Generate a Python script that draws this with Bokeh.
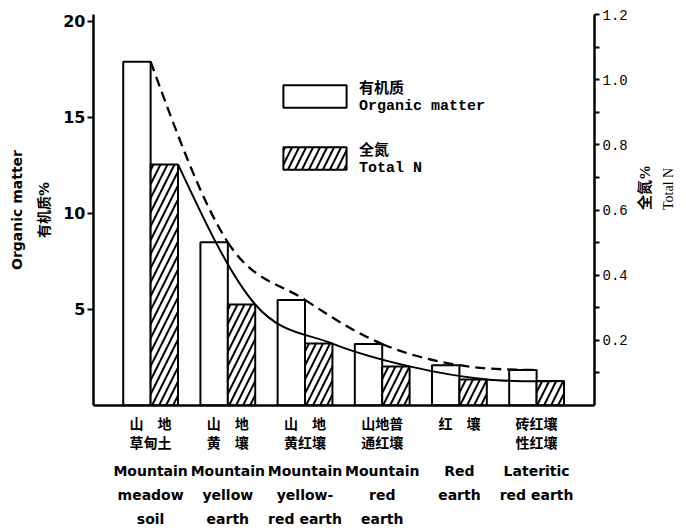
import math
import numpy as np
from bokeh.plotting import figure
from bokeh.models import (Range1d, LinearAxis, FixedTicker, Legend, LegendItem,
                          PrintfTickFormatter)
from bokeh.embed import file_html
from bokeh.resources import INLINE

# ---- data ----
soils_cn = ["山　地\n草甸土", "山　地\n黄　壤", "山　地\n黄红壤", "山地普\n通红壤", "红　壤", "砖红壤\n性红壤"]
soils_en = ["Mountain\nmeadow\nsoil", "Mountain\nyellow\nearth", "Mountain\nyellow-\nred earth",
            "Mountain\nred\nearth", "Red\nearth", "Lateritic\nred earth"]
organic_matter = [17.9, 8.5, 5.5, 3.2, 2.1, 1.85]      # %
total_n = [0.74, 0.31, 0.19, 0.12, 0.08, 0.075]         # %
om_ticks = [5, 10, 15, 20]
n_ticks = [0.2, 0.4, 0.6, 0.8, 1.0, 1.2]
n_minor = [0.1, 0.3, 0.5, 0.7, 0.9, 1.1]

W, H = 686, 531
pos = list(range(1, len(soils_cn) + 1))
bw = 0.355

p = figure(width=W, height=H, output_backend="svg", toolbar_location=None,
           x_range=Range1d(0.26, 6.75), y_range=Range1d(0, 20.36),
           x_axis_type=None, y_axis_type=None,
           min_border_left=93, min_border_right=92, min_border_top=14, min_border_bottom=126)
p.extra_y_ranges = {"n": Range1d(0, 1.2)}
p.outline_line_color = None
p.background_fill_color = "white"
p.border_fill_color = "white"

CJK = "'Noto Sans CJK SC'"
BLACK = "black"

left = LinearAxis(ticker=FixedTicker(ticks=om_ticks, minor_ticks=[]),
                  axis_line_width=2.5, major_tick_line_width=2, major_tick_out=6, major_tick_in=0,
                  minor_tick_out=0, minor_tick_in=0,
                  major_label_text_font="DejaVu Sans", major_label_text_font_style="bold",
                  major_label_text_font_size="16px", major_label_standoff=2,
                  major_label_text_color=BLACK,
                  axis_label="Organic matter\n有机质%",
                  axis_label_text_font="'DejaVu Sans', " + CJK, axis_label_text_font_style="bold",
                  axis_label_text_font_size="14px", axis_label_standoff=8,
                  axis_label_text_line_height=1.7, axis_label_text_color=BLACK)
p.add_layout(left, "left")

right = LinearAxis(y_range_name="n", ticker=FixedTicker(ticks=n_ticks, minor_ticks=n_minor),
                   formatter=PrintfTickFormatter(format="%.1f"),
                   axis_line_width=2.5, major_tick_line_width=2, major_tick_out=5, major_tick_in=0,
                   minor_tick_line_width=2, minor_tick_out=5, minor_tick_in=0,
                   major_label_text_font="Liberation Mono", major_label_text_font_size="14px",
                   major_label_standoff=3, major_label_text_color=BLACK,
                   axis_label="全氮%", axis_label_text_font="'Liberation Serif', " + CJK,
                   axis_label_text_font_style="bold",
                   axis_label_text_font_size="15px", axis_label_standoff=14,
                   axis_label_text_color=BLACK)
# second (tick-less) right axis carrying the English title line
right2 = LinearAxis(y_range_name="n", ticker=FixedTicker(ticks=[], minor_ticks=[]),
                    axis_line_color=None, major_tick_out=0, major_tick_in=0,
                    minor_tick_out=0, minor_tick_in=0,
                    axis_label="Total N", axis_label_text_font="Liberation Serif",
                    axis_label_text_font_style="normal", axis_label_text_font_size="14px",
                    axis_label_standoff=5, axis_label_text_color=BLACK)
for ax in (right, right2):
    try:
        ax.axis_label_orientation = math.pi / 2   # read bottom-to-top as in the original
    except Exception:
        pass
p.add_layout(right, "right")
p.add_layout(right2, "right")

cn_axis = LinearAxis(ticker=FixedTicker(ticks=pos, minor_ticks=[]),
                     major_label_overrides={k: v for k, v in zip(pos, soils_cn)},
                     axis_line_width=2.5, major_tick_out=0, major_tick_in=0,
                     minor_tick_out=0, minor_tick_in=0,
                     major_label_text_font=CJK, major_label_text_font_style="bold",
                     major_label_text_font_size="14px", major_label_text_line_height=0.95,
                     major_label_standoff=7, major_label_text_color=BLACK)
p.add_layout(cn_axis, "below")

en_axis = LinearAxis(ticker=FixedTicker(ticks=pos, minor_ticks=[]),
                     major_label_overrides={k: v for k, v in zip(pos, soils_en)},
                     axis_line_color=None, major_tick_out=0, major_tick_in=0,
                     minor_tick_out=0, minor_tick_in=0,
                     major_label_text_font="DejaVu Sans", major_label_text_font_style="bold",
                     major_label_text_font_size="14px", major_label_text_line_height=1.5,
                     major_label_standoff=8, major_label_text_color=BLACK)
p.add_layout(en_axis, "below")

# ---- bars ----
x = np.array(pos, dtype=float)
r_om = p.vbar(x=x - bw / 2, top=organic_matter, bottom=0, width=bw,
              fill_color="white", line_color="black", line_width=2)
r_n = p.vbar(x=x + bw / 2, top=total_n, bottom=0, width=bw, y_range_name="n",
             fill_color="white", line_color="black", line_width=2,
             hatch_pattern="/", hatch_color="black", hatch_weight=2, hatch_scale=14)


# ---- smooth trend curves through the bar corners ----
def bezier_parts(xs, ys):
    P = np.column_stack([xs, ys]).astype(float)
    n = len(P)
    m = np.zeros_like(P)
    for i in range(1, n - 1):
        m[i] = (P[i + 1] - P[i - 1]) / 2
    m[0] = (3 * (P[1] - P[0]) - m[1]) / 2
    m[-1] = (3 * (P[-1] - P[-2]) - m[-2]) / 2
    c0 = P[:-1] + m[:-1] / 3
    c1 = P[1:] - m[1:] / 3
    return dict(x0=P[:-1, 0], y0=P[:-1, 1], x1=P[1:, 0], y1=P[1:, 1],
                cx0=c0[:, 0], cy0=c0[:, 1], cx1=c1[:, 0], cy1=c1[:, 1])


om_curve = bezier_parts(x, organic_matter)
p.bezier(**om_curve, line_color="black", line_width=2.3, line_dash="10 6")
n_curve = bezier_parts(x + bw, total_n)
p.bezier(**n_curve, line_color="black", line_width=2.0, y_range_name="n")

legend = Legend(items=[LegendItem(label="有机质\nOrganic matter", renderers=[r_om]),
                       LegendItem(label="全氮\nTotal N", renderers=[r_n])],
                location=(182, 228), orientation="vertical",
                glyph_width=79, glyph_height=28, spacing=23, padding=0, margin=0,
                label_standoff=5, border_line_color=None, background_fill_alpha=0,
                label_text_font="'Liberation Mono', " + CJK, label_text_font_style="bold",
                label_text_font_size="15px", label_text_line_height=1.6,
                label_text_color=BLACK)
p.add_layout(legend)

open("out.html", "w").write(file_html(p, INLINE))
